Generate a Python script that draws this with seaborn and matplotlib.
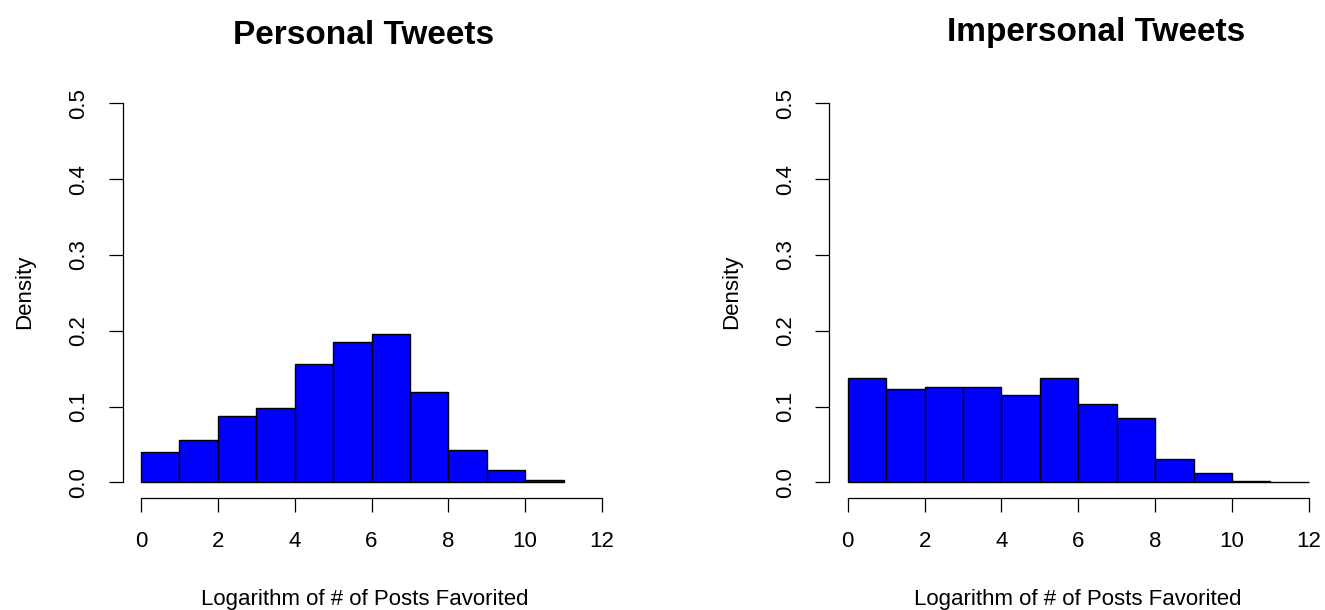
import numpy as np
import pandas as pd
import matplotlib
matplotlib.use("Agg")
import matplotlib.pyplot as plt
import seaborn as sns

# ---- data ----
personal_edges = [0, 1, 2, 3, 4, 5, 6, 7, 8, 9, 10, 11]
personal_density = [0.0396, 0.0558, 0.0871, 0.0984, 0.1565, 0.1855,
                    0.1956, 0.1195, 0.0430, 0.0158, 0.0034]

impersonal_edges = [0, 1, 2, 3, 4, 5, 6, 7, 8, 9, 10, 11, 12]
impersonal_density = [0.1376, 0.1231, 0.1261, 0.1253, 0.1148, 0.1376,
                      0.1037, 0.0848, 0.0311, 0.0127, 0.0018, 0.0005]

x_ticks = [0, 2, 4, 6, 8, 10, 12]
y_ticks = [0.0, 0.1, 0.2, 0.3, 0.4, 0.5]
y_tick_labels = ["0.0", "0.1", "0.2", "0.3", "0.4", "0.5"]

titles = ["Personal Tweets", "Impersonal Tweets"]
x_label = "Logarithm of # of Posts Favorited"
y_label = "Density"

sns.set_style("white")
plt.rcParams["font.family"] = ["Liberation Sans", "DejaVu Sans"]

W, H = 1325, 610
fig = plt.figure(figsize=(W / 100, H / 100), dpi=100)

axes_px = [(122.6, 88.1, 497.8, 409.4), (829.3, 88.1, 497.9, 409.4)]
title_px = [(364, 44.3), (1096, 41.0)]
xlabel_px = [364.5, 1078]
ylabel_px = [25, 731.6]

panels = [(personal_edges, personal_density), (impersonal_edges, impersonal_density)]

for i, (edges, dens) in enumerate(panels):
    l, t, w, h = axes_px[i]
    ax = fig.add_axes([l / W, 1 - (t + h) / H, w / W, h / H])
    e = np.asarray(edges, dtype=float)
    mids = list((e[:-1] + e[1:]) / 2)
    df = pd.DataFrame({"x": mids, "w": list(dens)})
    sns.histplot(data=df, x="x", weights="w", bins=list(edges), stat="count",
                 color="#0000FF", alpha=1.0, edgecolor="black", linewidth=1.0,
                 ax=ax)
    ax.set_xlim(-0.48, 12.48)
    ax.set_ylim(-0.02, 0.52)
    ax.set_xlabel("")
    ax.set_ylabel("")
    for s in ["top", "right"]:
        ax.spines[s].set_visible(False)
    for s in ["left", "bottom"]:
        ax.spines[s].set_color("black")
        ax.spines[s].set_linewidth(0.9)
    ax.spines["bottom"].set_bounds(0, 12)
    ax.spines["left"].set_bounds(0, 0.5)
    ax.set_xticks(x_ticks)
    ax.set_xticklabels([str(v) for v in x_ticks])
    ax.set_yticks(y_ticks)
    ax.set_yticklabels(y_tick_labels, rotation=90, va="center")
    ax.tick_params(axis="both", which="major", bottom=True, left=True,
                   top=False, right=False, direction="out", length=10,
                   width=0.9, color="black", labelsize=16, labelcolor="black",
                   pad=14)
    ax.patch.set_alpha(0)

    tx, ty = title_px[i]
    fig.text(tx / W, 1 - ty / H, titles[i], ha="center", va="baseline",
             fontsize=24, fontweight="bold", color="black")
    fig.text(xlabel_px[i] / W, 1 - 605 / H, x_label, ha="center",
             va="baseline", fontsize=16, color="black")
    fig.text(ylabel_px[i] / W, 1 - 292 / H, y_label, ha="center",
             va="center", rotation=90, fontsize=16, color="black")

fig.savefig("out.png", dpi=100, facecolor="white")
